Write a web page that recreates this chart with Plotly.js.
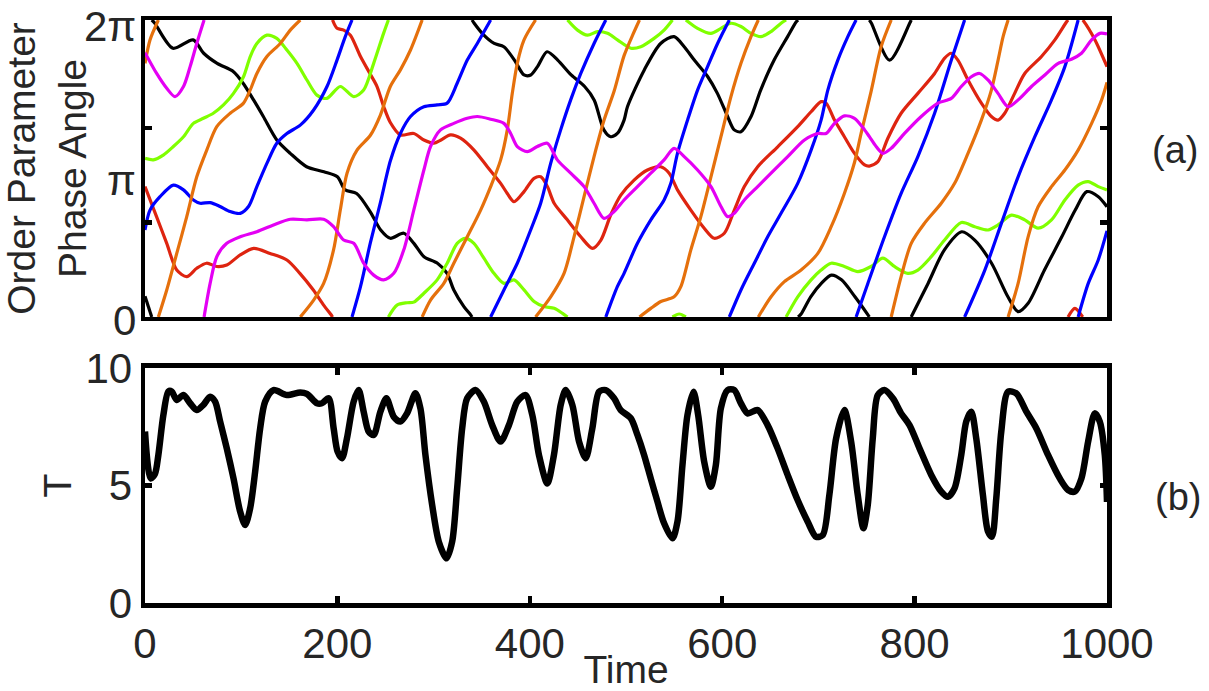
<!DOCTYPE html>
<html>
<head>
<meta charset="utf-8">
<script src="https://cdn.plot.ly/plotly-3.0.1.min.js"></script>
<style>
  html, body { margin: 0; padding: 0; background: #ffffff; }
  #chart { width: 1209px; height: 691px; }
</style>
</head>
<body>
<div id="chart"></div>
<script>
// ---------------- DATA ----------------
// Panel (a): order-parameter phase angles, given as unwrapped turns (1 turn = 2π)
const blackT = [0, 7, 10, 29, 50, 61, 75, 92, 102, 113, 123, 137, 151, 168, 186, 200, 208, 220, 234, 245, 255, 269, 279.5, 290, 304, 314, 321, 331.5, 338.5, 342, 352, 363, 373, 384, 394, 401, 408, 418, 429, 443, 457, 467, 477, 484, 491, 498, 501.5, 519, 536, 550, 560.5, 571, 585, 595, 605.6, 612.5, 619.5, 630, 640, 654, 668, 677, 682, 692, 703, 713.5, 724, 738, 751.5, 755, 774, 795, 798, 814, 831, 849, 862.5, 880, 897, 907.6, 918, 935, 953, 967, 979, 991, 1000];
const blackTurns = [0.07, 0.0, -0.01, -0.095, -0.067, -0.112, -0.146, -0.174, -0.213, -0.27, -0.325, -0.404, -0.449, -0.494, -0.511, -0.528, -0.572, -0.584, -0.645, -0.707, -0.735, -0.718, -0.752, -0.797, -0.819, -0.853, -0.909, -0.965, -0.993, -1.01, -1.05, -1.079, -1.09, -1.135, -1.185, -1.185, -1.157, -1.107, -1.135, -1.185, -1.224, -1.27, -1.37, -1.393, -1.382, -1.337, -1.292, -1.168, -1.079, -1.056, -1.09, -1.135, -1.191, -1.247, -1.325, -1.37, -1.376, -1.325, -1.236, -1.135, -1.056, -1.006, -0.99, -0.932, -0.887, -0.859, -0.875, -0.932, -0.993, -1.01, -1.135, -1.01, -0.99, -0.887, -0.774, -0.713, -0.741, -0.819, -0.932, -0.982, -0.954, -0.842, -0.73, -0.64, -0.578, -0.595, -0.629];

const redT = [0, 12, 22.6, 33, 43.4, 53.8, 64, 74.6, 85, 99, 113, 130, 147.5, 161, 175, 185.7, 194.4, 199.6, 206.6, 213.5, 224, 234.3, 241.2, 248.2, 255, 265.5, 279.4, 289.9, 300.3, 307.2, 317.6, 328, 342, 355.8, 369.7, 376.6, 383.6, 394, 404.4, 411.4, 418.3, 425.3, 439, 453, 465.2, 473.9, 484.3, 494.6, 508.4, 522.3, 536, 544.9, 553.5, 567.4, 581.3, 591.7, 602.2, 612.6, 623, 636.9, 657.7, 678.5, 692.4, 702.8, 708, 716.7, 727, 737.5, 748, 753, 761.8, 772.2, 786, 803.4, 820.8, 831, 838, 845, 855.5, 869.4, 879.8, 886.8, 893.7, 904, 914.5, 931.9, 945.8, 958, 966.6, 975.3, 987.5, 1000];
const redTurns = [0.439, 0.338, 0.248, 0.158, 0.136, 0.164, 0.181, 0.17, 0.175, 0.209, 0.231, 0.214, 0.192, 0.147, 0.091, 0.04, 0.003, -0.028, -0.034, -0.051, -0.123, -0.183, -0.224, -0.292, -0.345, -0.387, -0.382, -0.404, -0.415, -0.405, -0.387, -0.398, -0.438, -0.494, -0.55, -0.584, -0.612, -0.578, -0.533, -0.528, -0.561, -0.617, -0.673, -0.73, -0.769, -0.741, -0.655, -0.59, -0.539, -0.505, -0.494, -0.516, -0.572, -0.64, -0.701, -0.735, -0.718, -0.64, -0.561, -0.494, -0.427, -0.359, -0.309, -0.275, -0.28, -0.337, -0.393, -0.449, -0.488, -0.492, -0.477, -0.398, -0.314, -0.247, -0.18, -0.129, -0.112, -0.135, -0.202, -0.28, -0.325, -0.337, -0.314, -0.247, -0.18, -0.123, -0.067, -0.006, 0.029, -0.002, -0.067, -0.157];

const greenT = [0, 8.7, 19, 29.5, 40, 50.3, 60.7, 71, 81.6, 92, 102.4, 109.4, 116.3, 126.7, 137, 147.5, 158, 168.3, 178.7, 189, 203, 217, 227.3, 237.7, 248, 253, 262, 272.5, 279.4, 289.9, 303.7, 314.1, 324.5, 333.2, 341.9, 352.3, 362.7, 373.1, 383.6, 394, 404.4, 414.8, 425.3, 434, 439.2, 449.6, 460, 470.4, 480.8, 491.1, 505, 515.4, 529.2, 539.6, 548.3, 555.3, 562.2, 574.4, 588.3, 598.7, 609.1, 619.5, 629.9, 640.3, 650.8, 661.2, 666.4, 678.5, 692.4, 702.8, 713.3, 727, 741, 754.8, 767, 779, 793, 803.4, 817.3, 831.2, 848.6, 862.5, 876.4, 886.8, 900.7, 914.5, 928.4, 942.3, 956.2, 970, 980.5, 990.9, 1000];
const greenTurns = [0.534, 0.529, 0.545, 0.574, 0.607, 0.652, 0.669, 0.686, 0.714, 0.753, 0.809, 0.877, 0.921, 0.949, 0.938, 0.899, 0.854, 0.798, 0.747, 0.736, 0.776, 0.742, 0.764, 0.854, 0.955, 1.0, 1.04, 1.048, 1.05, 1.08, 1.125, 1.181, 1.248, 1.265, 1.248, 1.198, 1.147, 1.113, 1.125, 1.091, 1.052, 1.035, 1.029, 1.012, 1.0, 0.966, 0.949, 0.961, 0.955, 0.933, 0.905, 0.91, 0.938, 0.966, 1.0, 1.01, 1.0, 0.972, 0.955, 0.972, 0.989, 0.978, 0.955, 0.944, 0.961, 0.989, 1.0, 1.068, 1.125, 1.158, 1.181, 1.17, 1.153, 1.17, 1.198, 1.17, 1.147, 1.158, 1.203, 1.259, 1.318, 1.304, 1.293, 1.31, 1.343, 1.327, 1.299, 1.327, 1.394, 1.444, 1.456, 1.439, 1.428];

const blueT = [0, 5.2, 15.6, 29.5, 40, 50.3, 57.3, 67.7, 78, 88.5, 99, 107.6, 116.3, 126.7, 137, 147.5, 161.4, 175.3, 189.2, 199.6, 208.2, 215.2, 224, 234.3, 244.7, 255, 265.5, 276, 289.9, 303.7, 314.1, 324.5, 335, 345.4, 359.3, 373.1, 387, 400.9, 411.3, 421.7, 432.1, 442.5, 453, 466.8, 479, 491, 498, 511.9, 525.8, 539.6, 546.6, 553.5, 564, 574.4, 584.8, 595.2, 607.4, 619.5, 633.4, 647.3, 661.2, 678.5, 692.4, 702.8, 709.8, 720.2, 730.6, 739.2, 751.4, 768.7, 786, 803.4, 820.8, 838.2, 852, 873, 890.3, 907.6, 925, 942.3, 956.2, 970, 980.5, 990.9, 1000];
const blueTurns = [0.293, 0.36, 0.405, 0.444, 0.428, 0.394, 0.383, 0.385, 0.372, 0.355, 0.349, 0.372, 0.439, 0.517, 0.585, 0.618, 0.646, 0.697, 0.776, 0.865, 0.944, 1.0, 1.102, 1.25, 1.385, 1.525, 1.618, 1.675, 1.708, 1.714, 1.72, 1.787, 1.865, 1.921, 2.0, 2.091, 2.181, 2.293, 2.383, 2.517, 2.63, 2.731, 2.82, 2.921, 3.0, 3.102, 3.147, 3.248, 3.327, 3.394, 3.45, 3.551, 3.663, 3.764, 3.843, 3.921, 4.0, 4.091, 4.181, 4.27, 4.349, 4.45, 4.562, 4.663, 4.764, 4.865, 4.944, 5.0, 5.113, 5.27, 5.416, 5.54, 5.686, 5.865, 6.0, 6.158, 6.316, 6.472, 6.607, 6.731, 6.843, 7.0, 7.113, 7.192, 7.29];

const orangeT = [0, 5.2, 13.9, 22.6, 33, 43.4, 53.8, 64.2, 74.6, 88.5, 102.4, 109.3, 116.3, 126.7, 140.6, 151, 161.4, 175.3, 185.7, 196, 203, 210, 220.4, 234.3, 244.7, 255, 265.5, 276, 288.1, 296.8, 310.6, 321, 335, 348.9, 359.3, 369.7, 376.6, 381.8, 387, 394, 406, 421.7, 435.6, 446, 456.4, 466.8, 477.2, 487.6, 498, 507, 514, 525.8, 536.2, 550, 557, 567.4, 577.8, 588.3, 598.7, 609.1, 619.5, 629.9, 637.5, 650.8, 664.6, 682, 699.4, 713.3, 727, 737.5, 744.4, 754.8, 765.2, 775.7, 786, 796.5, 810.4, 827.7, 841.6, 855.5, 869.4, 879.8, 886.8, 892, 897.2, 907.6, 918, 928.4, 942.3, 956.2, 970, 984, 994.4, 1000];
const orangeTurns = [0.854, 0.933, 1.0, 1.091, 1.214, 1.338, 1.472, 1.562, 1.641, 1.686, 1.72, 1.764, 1.82, 1.877, 1.921, 1.966, 2.0, 2.057, 2.113, 2.226, 2.36, 2.484, 2.562, 2.612, 2.68, 2.776, 2.832, 2.899, 3.0, 3.057, 3.113, 3.181, 3.27, 3.36, 3.439, 3.529, 3.63, 3.753, 3.854, 3.933, 4.0, 4.068, 4.147, 4.27, 4.405, 4.54, 4.663, 4.76, 4.88, 4.95, 5.0, 5.029, 5.052, 5.068, 5.102, 5.226, 5.338, 5.472, 5.607, 5.742, 5.854, 5.944, 6.0, 6.068, 6.119, 6.158, 6.214, 6.304, 6.416, 6.52, 6.618, 6.76, 6.91, 7.0, 7.136, 7.248, 7.316, 7.383, 7.45, 7.551, 7.663, 7.764, 7.865, 7.944, 8.0, 8.113, 8.27, 8.371, 8.439, 8.495, 8.562, 8.652, 8.731, 8.79];

const magentaT = [0, 12.1, 22.6, 31.2, 40, 46.9, 53.8, 61.4, 67.7, 74.6, 85, 99, 116.3, 133.6, 151, 168.3, 185.7, 196, 206.5, 217, 227.3, 237.7, 248.1, 258.6, 269, 279.4, 289.9, 296.8, 307.2, 321, 335, 345.4, 359.3, 373.1, 380.1, 387, 397.4, 407.8, 418.2, 428.6, 442.5, 456.4, 466.8, 477.2, 487.6, 498, 511.9, 525.8, 539.6, 550, 560.5, 574.4, 588.3, 598.7, 605.6, 612.6, 623, 636.9, 650.8, 668.1, 685.5, 699.4, 708, 716.7, 727, 737.5, 748, 753, 760, 767, 775.7, 789.5, 806.9, 824.2, 838.1, 848.5, 859, 867.6, 876.3, 886.7, 897.2, 907.6, 921.5, 935.4, 949.3, 963, 973.5, 984, 992.6, 1000];
const magentaTurns = [0.89, 0.82, 0.77, 0.742, 0.776, 0.843, 0.921, 1.0, 1.113, 1.203, 1.248, 1.27, 1.287, 1.31, 1.329, 1.327, 1.329, 1.304, 1.259, 1.248, 1.181, 1.141, 1.125, 1.147, 1.226, 1.36, 1.495, 1.574, 1.63, 1.652, 1.669, 1.675, 1.666, 1.652, 1.618, 1.574, 1.557, 1.574, 1.585, 1.529, 1.484, 1.439, 1.383, 1.332, 1.355, 1.394, 1.439, 1.484, 1.529, 1.568, 1.54, 1.495, 1.439, 1.372, 1.338, 1.349, 1.394, 1.439, 1.484, 1.54, 1.596, 1.618, 1.618, 1.652, 1.677, 1.669, 1.63, 1.607, 1.574, 1.551, 1.568, 1.618, 1.675, 1.72, 1.736, 1.776, 1.809, 1.82, 1.798, 1.753, 1.708, 1.731, 1.776, 1.815, 1.854, 1.868, 1.888, 1.933, 1.955, 1.953];

// Panel (b): T versus time
const timeB = [0, 5.9, 10.4, 13.9, 19.1, 24.3, 27.8, 33, 39.9, 46.9, 53.8, 60.7, 67.7, 72.9, 78.1, 85, 92, 98.9, 104.1, 109.3, 114.5, 119.7, 124.9, 133.6, 147.5, 161.4, 168.3, 178.7, 183.9, 190.9, 196.1, 200.2, 204.8, 209.9, 216.9, 222.1, 227.3, 232.5, 237.7, 244.7, 250.9, 258.5, 265.5, 272.4, 281.1, 286.3, 291.5, 298.5, 305.4, 313.4, 319.3, 324.5, 329.7, 334.9, 343.6, 352.2, 360.9, 369.6, 378.3, 387, 395.6, 402.6, 409.5, 418.2, 425.1, 432.1, 437.3, 444.2, 451.2, 458.1, 465, 472, 478.9, 487.6, 494.5, 505, 511.9, 518.8, 525.7, 532.7, 539.6, 548.3, 553.5, 558.7, 563.9, 570.2, 575, 581.3, 588.2, 593.4, 598.6, 605.6, 612.5, 619.4, 626.4, 636.8, 647.2, 657.6, 668, 678.4, 688.9, 697.5, 704.5, 711.4, 718.4, 727, 734, 740.9, 746.8, 751.3, 756.5, 761.7, 768.7, 777.4, 786, 794.7, 805.1, 817.3, 827.7, 834.6, 841.5, 848.5, 853.7, 858.9, 864.1, 871, 876.3, 880.4, 884.9, 890.1, 897.1, 905.7, 916.2, 926.6, 938.7, 950.9, 959.5, 966.5, 973.4, 980.4, 987.3, 992.5, 997.7, 1000];
const tValues = [7.3, 5.3, 5.5, 6.3, 8.0, 9.0, 9.0, 8.64, 8.85, 8.5, 8.21, 8.43, 8.78, 8.57, 7.72, 6.58, 5.3, 3.89, 3.32, 4.03, 5.59, 7.43, 8.57, 9.06, 8.85, 8.96, 8.9, 8.5, 8.5, 8.71, 7.43, 6.44, 6.16, 7.0, 8.57, 9.06, 8.14, 7.29, 7.15, 8.14, 8.71, 7.93, 7.72, 8.07, 8.92, 8.28, 6.3, 4.17, 2.61, 1.9, 2.61, 4.88, 7.43, 8.71, 9.06, 8.57, 7.57, 6.87, 7.57, 8.57, 8.85, 8.0, 6.3, 5.09, 6.3, 8.43, 9.06, 8.43, 6.87, 6.16, 7.43, 8.99, 9.06, 8.71, 8.21, 7.86, 7.15, 6.3, 5.3, 4.31, 3.39, 2.75, 3.46, 5.87, 8.0, 8.99, 8.0, 6.01, 4.95, 5.87, 8.28, 9.06, 9.06, 8.5, 8.07, 8.21, 7.57, 6.58, 5.45, 4.38, 3.46, 2.82, 2.89, 4.6, 7.0, 8.21, 6.87, 4.6, 3.18, 4.17, 7.0, 8.85, 9.06, 8.71, 8.07, 7.57, 6.58, 5.45, 4.74, 4.52, 4.88, 6.3, 7.72, 8.14, 7.0, 4.6, 3.04, 2.82, 4.45, 7.29, 8.99, 8.92, 8.14, 7.43, 6.3, 5.3, 4.81, 4.74, 5.3, 6.87, 8.07, 7.72, 6.3, 4.3];

// axis labels
const xTickVals = [0, 200, 400, 600, 800, 1000];
const tTickVals = [0, 5, 10];
const phaseLabelVals = [0, Math.PI, 2 * Math.PI];
const phaseLabelText = ['0', 'π', '2π'];

// ---------------- WRAP unwrapped phase into [0, 2π) ----------------
function wrapPhase(ts, turns) {
  const TWO_PI = 2 * Math.PI;
  const x = [], y = [];
  function push(a, b) {
    const n = x.length;
    if (n > 0 && x[n - 1] !== null && Math.abs(x[n - 1] - a) < 1e-9 && Math.abs(y[n - 1] - b) < 1e-9) return;
    x.push(a); y.push(b);
  }
  for (let i = 0; i < ts.length; i++) {
    if (i > 0) {
      const u0 = turns[i - 1], u1 = turns[i];
      const c0 = Math.floor(u0), c1 = Math.floor(u1);
      const tAt = k => ts[i - 1] + (k - u0) / (u1 - u0) * (ts[i] - ts[i - 1]);
      if (c1 > c0) {
        for (let k = c0 + 1; k <= c1; k++) {
          const tc = tAt(k);
          push(tc, TWO_PI); x.push(null); y.push(null); push(tc, 0);
        }
      } else if (c1 < c0) {
        for (let k = c0; k > c1; k--) {
          const tc = tAt(k);
          push(tc, 0); x.push(null); y.push(null); push(tc, TWO_PI);
        }
      }
    }
    push(ts[i], (turns[i] - Math.floor(turns[i])) * TWO_PI);
  }
  return { x, y };
}

const series = [
  { t: blackT, u: blackTurns, color: '#000000', name: 'black' },
  { t: redT, u: redTurns, color: '#de2410', name: 'red' },
  { t: greenT, u: greenTurns, color: '#80ff00', name: 'green' },
  { t: blueT, u: blueTurns, color: '#0000ff', name: 'blue' },
  { t: orangeT, u: orangeTurns, color: '#e5700c', name: 'orange' },
  { t: magentaT, u: magentaTurns, color: '#e400f4', name: 'magenta' }
];

const traces = series.map(s => {
  const w = wrapPhase(s.t, s.u);
  return {
    type: 'scatter', mode: 'lines', x: w.x, y: w.y, name: s.name,
    xaxis: 'x', yaxis: 'y', connectgaps: false,
    line: { color: s.color, width: 3.2, shape: 'spline', smoothing: 0.8 },
    hoverinfo: 'skip'
  };
});

traces.push({
  type: 'scatter', mode: 'lines', x: timeB, y: tValues, name: 'T',
  xaxis: 'x2', yaxis: 'y2',
  line: { color: '#000000', width: 6.5, shape: 'spline', smoothing: 0.8 },
  hoverinfo: 'skip'
});

const FONT = 'Liberation Sans, Arial, Helvetica, sans-serif';
const TXT = '#262626';
const LW = 4.5;

const layout = {
  width: 1209, height: 691,
  margin: { l: 145, r: 102, t: 20, b: 88 },
  paper_bgcolor: '#ffffff', plot_bgcolor: '#ffffff',
  showlegend: false,
  font: { family: FONT, color: TXT, size: 40 },
  xaxis: {
    domain: [0, 1], anchor: 'y', range: [0, 1000],
    showline: true, mirror: true, linecolor: '#000', linewidth: LW,
    ticks: '', showticklabels: false, showgrid: false, zeroline: false, fixedrange: true
  },
  yaxis: {
    domain: [0.4906, 1], anchor: 'x', range: [0, 2 * Math.PI],
    tickvals: [2, 4], ticktext: ['', ''], ticks: 'inside', ticklen: 7, tickwidth: LW, tickcolor: '#000',
    showline: true, mirror: 'ticks', linecolor: '#000', linewidth: LW,
    showgrid: false, zeroline: false, fixedrange: true,
    title: { text: 'Order Parameter<br>Phase Angle', font: { family: FONT, size: 39, color: TXT }, standoff: 50 }
  },
  xaxis2: {
    domain: [0, 1], anchor: 'y2', range: [0, 1000],
    tickvals: xTickVals, ticks: 'inside', ticklen: 7, tickwidth: LW, tickcolor: '#000',
    showline: true, mirror: 'ticks', linecolor: '#000', linewidth: LW,
    showgrid: false, zeroline: false, fixedrange: true,
    tickfont: { family: FONT, size: 42, color: TXT },
    title: { text: 'Time', font: { family: FONT, size: 39, color: TXT }, standoff: 8 }
  },
  yaxis2: {
    domain: [0, 0.4031], anchor: 'x2', range: [0, 10],
    tickvals: tTickVals, ticks: 'inside', ticklen: 7, tickwidth: LW, tickcolor: '#000',
    showline: true, mirror: 'ticks', linecolor: '#000', linewidth: LW,
    showgrid: false, zeroline: false, fixedrange: true,
    tickfont: { family: FONT, size: 42, color: TXT },
    title: { text: 'T', font: { family: FONT, size: 39, color: TXT }, standoff: 3 }
  },
  annotations: [
    ...phaseLabelVals.map((v, i) => ({
      xref: 'paper', yref: 'y', x: 0, y: v, xanchor: 'right', yanchor: 'middle',
      xshift: -7, yshift: [-4, -12, -6][i], text: phaseLabelText[i], showarrow: false,
      font: { family: FONT, size: 42, color: TXT }
    })),
    { xref: 'paper', yref: 'paper', x: 1, y: 0.777, xanchor: 'center', yanchor: 'middle', xshift: 68,
      text: '(a)', showarrow: false, font: { family: FONT, size: 38, color: TXT } },
    { xref: 'paper', yref: 'paper', x: 1, y: 0.182, xanchor: 'center', yanchor: 'middle', xshift: 71,
      text: '(b)', showarrow: false, font: { family: FONT, size: 38, color: TXT } }
  ]
};

Plotly.newPlot('chart', traces, layout, { staticPlot: true, displayModeBar: false });
</script>
</body>
</html>
